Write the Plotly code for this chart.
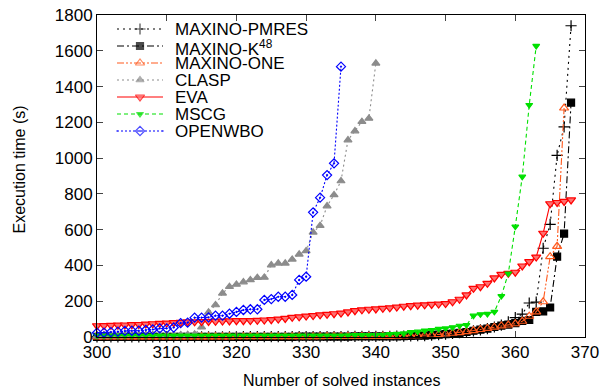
import plotly.graph_objects as go

# x = number of solved instances (one point per instance count, starting at 300)
pmres = [1, 1, 1, 1, 1, 1, 1, 1, 1, 1,
         1, 1, 1, 1, 1, 1, 1, 1, 1, 1,
         2, 2, 2, 2, 2, 2, 2, 2, 2, 2,
         2, 2, 2, 2, 2, 2, 3, 3, 3, 3,
         3, 4, 4, 5, 5, 6, 7, 8, 10, 13,
         16, 20, 24, 28, 34, 40, 47, 56, 66, 85,
         108, 128, 190, 195, 496, 630, 1015, 1175, 1740]
k48 = [1, 1, 1, 1, 1, 1, 1, 1, 1, 1,
       1, 1, 1, 1, 1, 1, 1, 1, 1, 1,
       1, 1, 1, 1, 1, 1, 1, 1, 1, 2,
       2, 2, 2, 2, 2, 2, 2, 3, 3, 3,
       3, 3, 4, 4, 5, 6, 7, 8, 10, 13,
       16, 19, 23, 28, 35, 41, 47, 56, 64, 69,
       78, 90, 95, 140, 143, 165, 449, 578, 1310]
one = [1, 1, 1, 1, 1, 1, 1, 1, 1, 1,
       1, 1, 1, 1, 1, 1, 1, 1, 1, 1,
       2, 2, 2, 2, 2, 2, 2, 2, 2, 2,
       2, 2, 2, 3, 3, 3, 3, 3, 3, 3,
       4, 4, 4, 5, 6, 7, 8, 9, 11, 14,
       17, 21, 25, 30, 36, 42, 48, 55, 62, 67,
       74, 88, 116, 141, 197, 449, 507, 1280]
clasp = [5, 5, 6, 6, 6, 7, 7, 8, 8, 9,
         10, 10, 11, 12, 15, 55, 138, 179, 244, 281,
         294, 307, 319, 332, 333, 402, 412, 412, 434, 462,
         481, 585, 622, 732, 794, 872, 1101, 1151, 1204, 1222,
         1530]
eva = [63, 64, 65, 66, 67, 69, 70, 72, 74, 76,
       78, 80, 82, 84, 85, 86, 87, 88, 89, 90,
       91, 91, 92, 93, 95, 97, 100, 104, 110, 113,
       117, 120, 124, 127, 130, 134, 140, 147, 152, 155,
       157, 160, 163, 167, 172, 175, 178, 180, 182, 184,
       187, 197, 211, 235, 272, 281, 300, 330, 350, 356,
       362, 397, 421, 447, 580, 745, 752, 758, 766]
mscg = [8, 8, 8, 8, 8, 8, 8, 8, 8, 8,
        8, 8, 8, 8, 8, 8, 8, 8, 8, 8,
        8, 8, 8, 8, 8, 8, 8, 8, 8, 8,
        8, 8, 8, 8, 8, 8, 9, 10, 10, 11,
        11, 12, 16, 18, 20, 27, 30, 36, 39, 45,
        48, 54, 63, 67, 119, 127, 129, 141, 229, 355,
        617, 896, 1297, 1627]
openwbo = [24, 24, 27, 30, 34, 35, 35, 39, 42, 48,
           48, 53, 78, 80, 108, 108, 110, 119, 119, 130,
           140, 151, 155, 155, 207, 212, 225, 225, 235, 319,
           337, 697, 779, 905, 971, 1511]

x_start = 300
x_ticks = [300, 310, 320, 330, 340, 350, 360, 370]
y_ticks = [0, 200, 400, 600, 800, 1000, 1200, 1400, 1600, 1800]
names = ["MAXINO-PMRES", "MAXINO-K<sup>48</sup>", "MAXINO-ONE", "CLASP",
         "EVA", "MSCG", "OPENWBO"]

styles = [
    # color, dash, symbol, size, fill
    ("black", "2px,4px", "cross-thin", 8, None),
    ("black", "7px,3px,2px,3px", "square", 7, None),
    ("#ff5a1e", "7px,2px,2px,2px,2px,2px", "triangle-up-open", 8, None),
    ("#8c8c8c", "2px,3px", "triangle-up", 7, None),
    ("#ff0000", "solid", "triangle-down", 8, "#ff7070"),
    ("#00e000", "4px,3px", "triangle-down", 6, None),
    ("#0000ff", "2px,2px", "diamond-open-dot", 7, None),
]
values = [pmres, k48, one, clasp, eva, mscg, openwbo]

fig = go.Figure()
for name, ys, (color, dash, sym, size, fill) in zip(names, values, styles):
    xs = list(range(x_start, x_start + len(ys)))
    fig.add_trace(go.Scatter(
        x=xs, y=ys, name=name, mode="lines+markers", showlegend=False,
        line=dict(color=color, width=1.1, dash=dash),
        marker=dict(symbol=sym, size=size, color=fill or color,
                    line=dict(color=color, width=1.2)),
        cliponaxis=False,
    ))

# Hand-made legend (compact rows like the original), drawn on a hidden pixel-unit overlay axis
L_X0, L_XM, L_X1, L_TX, L_Y0, L_DY = 117, 140, 163, 173, 29, 17
annotations = []
for i, (name, (color, dash, sym, size, fill)) in enumerate(zip(names, styles)):
    yy = L_Y0 + i * L_DY
    fig.add_trace(go.Scatter(
        x=[L_X0, L_XM, L_X1], y=[yy, yy, yy], xaxis="x2", yaxis="y2",
        mode="lines+markers", showlegend=False, hoverinfo="skip",
        line=dict(color=color, width=1.1, dash=dash),
        marker=dict(symbol=sym, size=[0, size, 0], color=fill or color,
                    line=dict(color=color, width=[0, 1.2, 0])),
    ))
    annotations.append(dict(x=L_TX, y=yy + (2 if "sup" in name else 0), xref="x2", yref="y2",
                            text=name, showarrow=False, xanchor="left",
                            yanchor="middle", font=dict(size=17)))

annotations.append(dict(x=0.5, y=-0.134, xref="paper", yref="paper",
                        text="Number of solved instances", showarrow=False,
                        xanchor="center", yanchor="middle", font=dict(size=16)))
annotations.append(dict(x=-0.158, y=0.52, xref="paper", yref="paper",
                        text="Execution time (s)", showarrow=False, textangle=-90,
                        xanchor="center", yanchor="middle", font=dict(size=16)))

font = dict(family="Liberation Sans, Arial, sans-serif", size=16, color="black")
fig.update_layout(
    width=602, height=392,
    margin=dict(l=97, r=17, t=15, b=55, autoexpand=False),
    paper_bgcolor="white", plot_bgcolor="white",
    font=font,
    showlegend=False,
    annotations=annotations,
    xaxis=dict(range=[300, 370], tickvals=x_ticks, ticks="inside", ticklen=6,
               showline=True, linecolor="black", linewidth=1, mirror="allticks",
               showgrid=False, zeroline=False, automargin=False,
               tickfont=dict(size=17)),
    yaxis=dict(range=[0, 1800], tickvals=y_ticks, ticks="inside", ticklen=6,
               showline=True, linecolor="black", linewidth=1, mirror="allticks",
               showgrid=False, zeroline=False, automargin=False,
               tickfont=dict(size=17)),
    xaxis2=dict(range=[97, 585], overlaying="x", visible=False, fixedrange=True),
    yaxis2=dict(range=[337, 15], overlaying="y", visible=False, fixedrange=True),
)

fig.write_html("out.html", config={"displayModeBar": False},
               post_script="document.body.style.margin='0';document.body.style.overflow='hidden';")
